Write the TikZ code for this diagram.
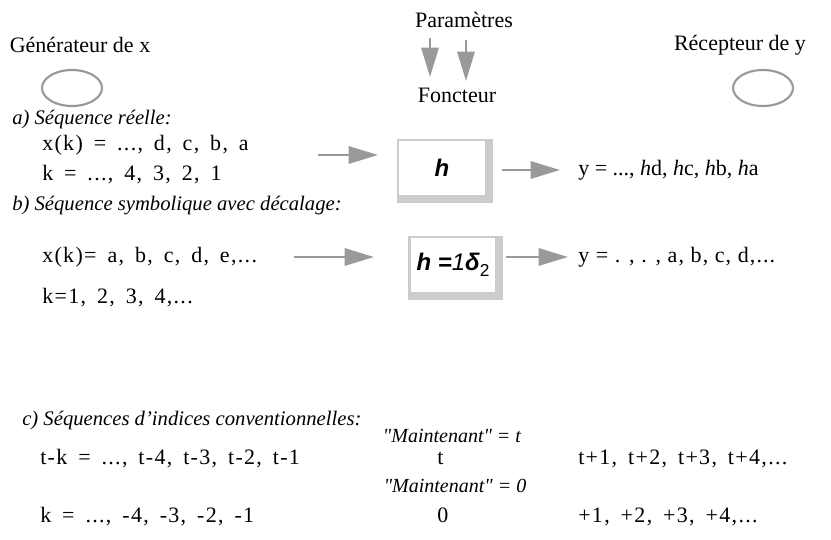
\documentclass[tikz,border=0pt]{standalone}
\usepackage{fontspec}
\setmainfont{Liberation Serif}
\newfontfamily\boxfont{Liberation Sans}
\newfontfamily\suitefont{Liberation Serif}[LetterSpace=6,WordSpace=1.6]
\newfontfamily\serrefont{Liberation Serif}[LetterSpace=5]
\usetikzlibrary{arrows.meta,shapes.geometric}
\definecolor{fleche}{RGB}{153,153,153}
\definecolor{cadre}{RGB}{204,204,204}
\tikzset{
	fl/.style={draw=fleche, line width=1.6pt, -{Triangle[length=22pt,width=13pt]}},
	txt/.style={anchor=base west, inner sep=0pt},
	suite/.style={txt, font=\fontsize{16.5}{19}\selectfont\suitefont},
	serre/.style={txt, font=\fontsize{16.5}{19}\selectfont\serrefont},
	titre/.style={txt, font=\fontsize{15.5}{18}\selectfont\itshape},
	maint/.style={inner sep=0pt, font=\fontsize{15}{18}\selectfont\itshape},
	source/.style={ellipse, draw=fleche, line width=1.6pt, minimum width=45pt, minimum height=27pt, inner sep=0pt},
	foncteur/.style={draw=cadre, line width=2pt, inner sep=0pt, font=\fontsize{18}{20}\selectfont\boxfont\bfseries\itshape}
}
\begin{document}
\begin{tikzpicture}[x=0.75pt, y=-0.75pt, font=\fontsize{16.5}{19}\selectfont]
	\useasboundingbox (0,0) rectangle (831,539);
	% en-tete
	\node (gen) at (80,45) {Générateur de x};
	\node[source] (genx) at (72,88) {};
	\node (param) at (464,20) {Paramètres};
	\node (fonct) at (457,95) {Foncteur};
	\node (rec) at (740,45) {Récepteur de y};
	\node[source] (recy) at (763,88) {};
	\coordinate (p1) at (430,38);
	\coordinate (q1) at (430,77);
	\coordinate (p2) at (466,40);
	\coordinate (q2) at (466,81);
	\draw[fl] (p1) -- (q1);
	\draw[fl] (p2) -- (q2);
	
	% a) sequence reelle
	\node[titre] (ta) at (12,124) {a) Séquence réelle:};
	\node[suite] (xa) at (42,150) {x(k) = ..., d, c, b, a};
	\node[suite] (ka) at (42,180) {k = ..., 4, 3, 2, 1};
	\node[foncteur, minimum width=66pt, minimum height=42pt] (ha) at (442,168) {h};
	\draw[cadre, line width=4pt] ([xshift=2pt]ha.north east) -- ([xshift=2pt]ha.south east);
	\draw[cadre, line width=4pt] ([yshift=-2pt]ha.south west) -- ([xshift=4pt,yshift=-2pt]ha.south east);
	\node[txt] (ya) at (578,175) {y = ..., \textit{h}d, \textit{h}c, \textit{h}b, \textit{h}a};
	\coordinate (a1) at (318,155);
	\coordinate (a2) at (378,155);
	\coordinate (a3) at (502,170);
	\coordinate (a4) at (560,170);
	\draw[fl] (a1) -- (a2);
	\draw[fl] (a3) -- (a4);
	
	% b) sequence symbolique
	\node[titre] (tb) at (12,210) {b) Séquence symbolique avec décalage:};
	\node[suite] (xb) at (42,262) {x(k)= a, b, c, d, e,...};
	\node[suite] (kb) at (42,303) {k=1, 2, 3, 4,...};
	\node[foncteur, minimum width=65pt, minimum height=42pt] (hb) at (453,265) {h ={\mdseries 1}δ\raisebox{-0.45ex}{\mdseries\upshape\fontsize{13}{14}\selectfont 2}};
	\draw[cadre, line width=4pt] ([xshift=2pt]hb.north east) -- ([xshift=2pt]hb.south east);
	\draw[cadre, line width=4pt] ([yshift=-2pt]hb.south west) -- ([xshift=4pt,yshift=-2pt]hb.south east);
	\node[serre] (yb) at (578,262) {y = . , . , a, b, c, d,...};
	\coordinate (b1) at (294,257);
	\coordinate (b2) at (374,257);
	\coordinate (b3) at (506,257);
	\coordinate (b4) at (568,257);
	\draw[fl] (b1) -- (b2);
	\draw[fl] (b3) -- (b4);
	
	% c) indices conventionnels
	\node[titre] (tc) at (22,425) {c) Séquences d’indices conventionnelles:};
	\node[maint] (mt) at (452,436) {\textquotedbl Maintenant\textquotedbl\ = t};
	\node[suite] (tk) at (40,464) {t-k = ..., t-4, t-3, t-2, t-1};
	\node[suite] (t0) at (437,464) {t};
	\node[suite] (tp) at (578,464) {t+1, t+2, t+3, t+4,...};
	\node[maint] (m0) at (455,486) {\textquotedbl Maintenant\textquotedbl\ = 0};
	\node[suite] (kc) at (40,522) {k = ..., -4, -3, -2, -1};
	\node[suite] (k0) at (437,522) {0};
	\node[suite] (kp) at (578,522) {+1, +2, +3, +4,...};
\end{tikzpicture}
\end{document}
